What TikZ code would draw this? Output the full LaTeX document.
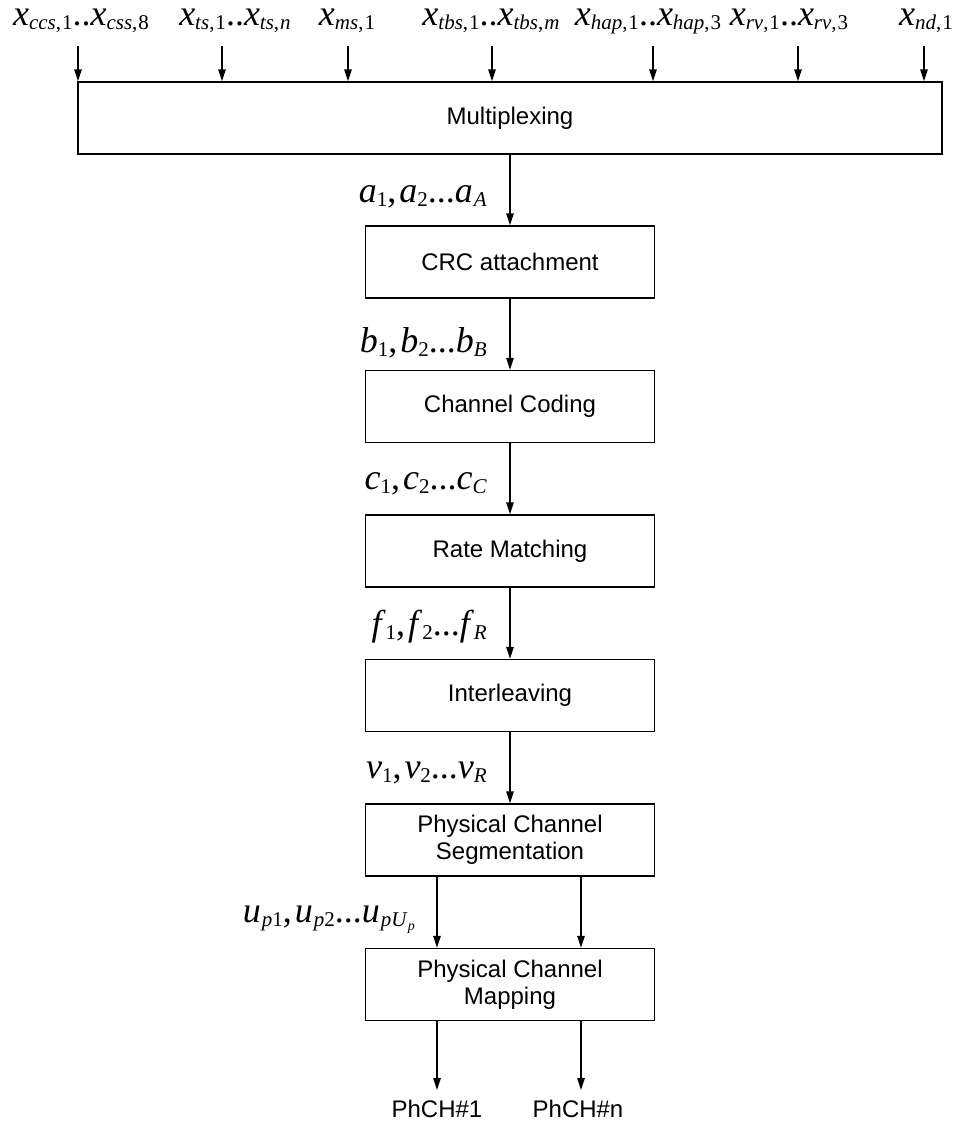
\documentclass[tikz,border=0pt]{standalone}
\usepackage{fontspec}
\setmainfont{Liberation Sans}
\newfontfamily\tms{Liberation Serif}
\usetikzlibrary{arrows.meta}
\newcommand{\Lf}{\tms\fontsize{36}{40}\selectfont}
\newcommand{\vi}[1]{\textit{#1}}
\newcommand{\sbs}[1]{{\fontsize{21}{24}\selectfont\raisebox{-4pt}{#1}}}
\newcommand{\ssbs}[1]{{\fontsize{14}{16}\selectfont\raisebox{-4pt}{#1}}}
\newcommand{\cm}{,\kern3pt}
\begin{document}
\begin{tikzpicture}[x=1pt,y=-1pt,
  box/.style={draw,line width=1.4pt,minimum width=289pt,minimum height=72pt,inner sep=0pt,font=\fontsize{24}{27}\selectfont,align=center},
  arr/.style={line width=1.4pt,-{Triangle[length=12pt,width=7.5pt]}},
  lab/.style={font=\Lf,inner sep=0pt},
  outl/.style={font=\fontsize{24}{27}\selectfont,inner xsep=0pt,inner ysep=10pt}]
\useasboundingbox (0,0) rectangle (958,1122);
% boxes
\node[box,minimum width=864pt] (mux) at (510,118) {Multiplexing};
\node[box] (crc) at (510,262) {CRC attachment};
\node[box] (cc) at (510,406.5) {Channel Coding};
\node[box] (rm) at (510,551) {Rate Matching};
\node[box] (il) at (510,695.5) {Interleaving};
\node[box] (seg) at (510,840) {Physical Channel\\Segmentation};
\node[box] (map) at (510,984.5) {Physical Channel\\Mapping};
% top labels
\node[lab,anchor=base] (x1) at (81,25) {\vi{x}\sbs{\vi{ccs},\kern1pt1}..\vi{x}\sbs{\vi{css},\kern1pt8}};
\node[lab,anchor=base] (x2) at (235,25) {\vi{x}\sbs{\vi{ts},\kern1pt1}..\vi{x}\sbs{\vi{ts},\kern1pt\vi{n}}};
\node[lab,anchor=base] (x3) at (347,25) {\vi{x}\sbs{\vi{ms},\kern1pt1}};
\node[lab,anchor=base] (x4) at (491,25) {\vi{x}\sbs{\vi{tbs},\kern1pt1}..\vi{x}\sbs{\vi{tbs},\kern1pt\vi{m}}};
\node[lab,anchor=base] (x5) at (648,25) {\vi{x}\sbs{\vi{hap},\kern1pt1}..\vi{x}\sbs{\vi{hap},\kern1pt3}};
\node[lab,anchor=base] (x6) at (789,25) {\vi{x}\sbs{\vi{rv},\kern1pt1}..\vi{x}\sbs{\vi{rv},\kern1pt3}};
\node[lab,anchor=base] (x7) at (926,25) {\vi{x}\sbs{\vi{nd},\kern1pt1}};
% top arrows
\foreach \n/\xx in {1/78,2/222,3/348,4/492,5/653,6/798,7/924}{
  \coordinate (t\n) at (\xx,46);
  \draw[arr] (t\n) -- (t\n |- mux.north);
}
% chain arrows
\draw[arr] (mux) -- (crc);
\draw[arr] (crc) -- (cc);
\draw[arr] (cc) -- (rm);
\draw[arr] (rm) -- (il);
\draw[arr] (il) -- (seg);
% chain labels
\node[lab,anchor=east] (la) at (487,197) {\vi{a}\sbs{1}\cm\vi{a}\sbs{2}...\vi{a}\sbs{\kern1pt\vi{A}}};
\node[lab,anchor=east] (lb) at (487,343) {\vi{b}\sbs{1}\cm\vi{b}\sbs{2}...\vi{b}\sbs{\vi{B}}};
\node[lab,anchor=east] (lc) at (487,484) {\vi{c}\sbs{1}\cm\vi{c}\sbs{2}...\vi{c}\sbs{\vi{C}}};
\node[lab,anchor=east] (lf) at (487,627) {\vi{f}\sbs{1}\cm\vi{f}\sbs{2}...\vi{f}\sbs{\vi{R}}};
\node[lab,anchor=east] (lv) at (487,773) {\vi{v}\sbs{1}\cm\vi{v}\sbs{2}...\vi{v}\sbs{\vi{R}}};
\node[lab,anchor=east] (lu) at (415,920) {\vi{u}\sbs{\kern1pt\vi{p}1}\cm\vi{u}\sbs{\kern1pt\vi{p}2}...\vi{u}\sbs{\kern1pt\vi{pU}\ssbs{\vi{p}}}};
% branches
\coordinate (b1) at (437,0);
\coordinate (b2) at (581,0);
\draw[arr] (seg.south -| b1) -- (map.north -| b1);
\draw[arr] (seg.south -| b2) -- (map.north -| b2);
% outputs
\node[outl,anchor=north] (p1) at (437,1090) {PhCH\#1};
\node[outl,anchor=north] (p2) at (578,1090) {PhCH\#n};
\draw[arr] (map.south -| b1) -- (b1 |- p1.north);
\draw[arr] (map.south -| b2) -- (b2 |- p2.north);
\end{tikzpicture}
\end{document}
